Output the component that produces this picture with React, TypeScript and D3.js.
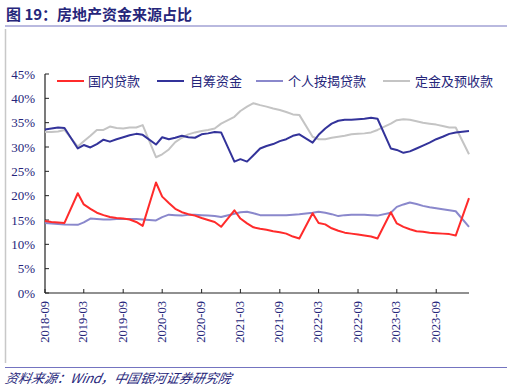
import React from "react";
import * as d3 from "d3";

const months: string[] = [
  "2018-09","2018-10","2018-11","2018-12",
  "2019-02","2019-03","2019-04","2019-05","2019-06","2019-07","2019-08","2019-09","2019-10","2019-11","2019-12",
  "2020-02","2020-03","2020-04","2020-05","2020-06","2020-07","2020-08","2020-09","2020-10","2020-11","2020-12",
  "2021-02","2021-03","2021-04","2021-05","2021-06","2021-07","2021-08","2021-09","2021-10","2021-11","2021-12",
  "2022-02","2022-03","2022-04","2022-05","2022-06","2022-07","2022-08","2022-09","2022-10","2022-11","2022-12",
  "2023-02","2023-03","2023-04","2023-05","2023-06","2023-07","2023-08","2023-09","2023-10","2023-11","2023-12",
  "2024-02",
];

const domesticLoans: number[] = [
  14.8,14.6,14.5,14.4,
  20.5,18.2,17.3,16.5,16.0,15.6,15.4,15.3,15.1,14.6,13.8,
  22.7,19.8,18.5,17.3,16.6,16.2,15.9,15.4,15.0,14.6,13.6,
  17.0,15.3,14.3,13.5,13.2,13.0,12.7,12.5,12.2,11.6,11.2,
  16.4,14.4,14.1,13.3,12.8,12.4,12.2,12.0,11.8,11.6,11.2,
  16.6,14.3,13.6,13.1,12.7,12.6,12.4,12.3,12.2,12.1,11.8,
  19.5,
];

const selfRaised: number[] = [
  33.6,33.8,34.0,33.9,
  29.7,30.4,29.9,30.6,31.5,31.1,31.6,32.0,32.4,32.7,32.5,
  30.5,32.0,31.6,31.9,32.3,32.0,31.9,32.6,32.8,33.1,33.0,
  27.0,27.5,27.0,28.3,29.7,30.2,30.6,31.2,31.6,32.3,32.6,
  30.9,32.5,33.8,34.8,35.4,35.6,35.6,35.7,35.8,36.0,35.8,
  29.7,29.4,28.8,29.1,29.7,30.3,30.9,31.6,32.1,32.7,33.0,
  33.3,
];

const mortgage: number[] = [
  14.4,14.3,14.2,14.1,
  14.0,14.5,15.3,15.2,15.1,15.1,15.2,15.2,15.2,15.2,15.1,
  14.9,15.6,16.1,16.0,15.9,16.1,16.1,16.0,15.9,15.8,15.6,
  16.3,16.6,16.7,16.4,16.0,16.0,16.0,16.0,16.0,16.1,16.2,
  16.5,16.7,16.5,16.2,15.8,16.0,16.1,16.1,16.1,16.0,15.9,
  16.5,17.7,18.2,18.6,18.3,17.9,17.6,17.4,17.2,17.0,16.8,
  13.6,
];

const deposits: number[] = [
  33.1,33.1,33.2,33.5,
  30.1,31.2,32.3,33.5,33.5,34.2,33.9,33.8,34.0,34.0,34.5,
  27.9,28.5,29.5,31.0,31.9,32.6,33.0,33.3,33.5,33.8,34.8,
  36.2,37.4,38.3,39.0,38.6,38.3,37.9,37.6,37.2,36.7,36.6,
  32.1,31.6,31.6,31.9,32.1,32.3,32.6,32.7,32.8,33.0,33.5,
  34.8,35.5,35.7,35.6,35.3,35.0,34.8,34.6,34.3,34.0,34.0,
  28.5,
];

const yTicks: number[] = [0, 5, 10, 15, 20, 25, 30, 35, 40, 45];
const xTickLabels: string[] = [
  "2018-09","2019-03","2019-09","2020-03","2020-09","2021-03",
  "2021-09","2022-03","2022-09","2023-03","2023-09",
];

const seriesNames = ["国内贷款", "自筹资金", "个人按揭贷款", "定金及预收款"];
const seriesColors = ["#ff2b2b", "#33339a", "#8a88cc", "#c4c4c4"];
const seriesData = [domesticLoans, selfRaised, mortgage, deposits];
const drawOrder = [3, 1, 2, 0];

const navy = "#25257a";

const parse = d3.timeParse("%Y-%m");

export default function App() {
  const W = 512, H = 391;
  const left = 45, right = 469, top = 74, bottom = 293;
  const dates = months.map((m) => parse(m) as Date);
  const x = d3.scaleTime().domain([parse("2018-09") as Date, parse("2024-02") as Date]).range([left, right]);
  const y = d3.scaleLinear().domain([0, 45]).range([bottom, top]);
  const line = (vals: number[]) =>
    d3.line<number>().x((_, i) => x(dates[i])).y((v) => y(v))(vals) || "";

  const legendItems = [
    { lx: 57, tx: 88 },
    { lx: 157, tx: 190 },
    { lx: 256, tx: 288 },
    { lx: 383, tx: 415 },
  ];

  return (
    <svg width={W} height={H} style={{ position: "absolute", left: 0, top: 0, background: "#fff" }}>
      <rect x={0} y={0} width={W} height={H} fill="#fff" />
      <text x={6} y={20} fontFamily="'Noto Sans CJK SC', sans-serif" fontWeight="bold" fontSize={15} fill={navy}>
        图 19：房地产资金来源占比
      </text>
      <line x1={5} x2={507} y1={26} y2={26} stroke="#7474c0" strokeWidth={1.2} />
      <line x1={5.5} x2={5.5} y1={29} y2={363} stroke="#c8c8c8" strokeWidth={1.5} />
      <line x1={5} x2={507} y1={367.5} y2={367.5} stroke="#7474c0" strokeWidth={1.2} />
      <text x={7} y={383} fontFamily="'Noto Sans CJK SC', sans-serif" fontStyle="italic" fontSize={13} fill={navy}
        transform="skewX(-12) translate(79,0)">
        资料来源：Wind，中国银河证券研究院
      </text>

      {/* Y axis */}
      <line x1={left} x2={left} y1={top} y2={bottom} stroke="#222" strokeWidth={1.2} />
      {yTicks.map((t) => (
        <g key={t}>
          <line x1={left} x2={left + 4} y1={y(t)} y2={y(t)} stroke="#222" strokeWidth={1} />
          <text x={35} y={y(t)} dy="0.35em" textAnchor="end" fontFamily="'Liberation Serif', serif" fontSize={13} fill={navy}>
            {t}%
          </text>
        </g>
      ))}

      {/* X axis */}
      <line x1={left} x2={right} y1={bottom} y2={bottom} stroke="#222" strokeWidth={1.2} />
      {xTickLabels.map((lab) => {
        const xx = x(parse(lab) as Date);
        return (
          <g key={lab}>
            <line x1={xx} x2={xx} y1={bottom} y2={bottom - 4} stroke="#222" strokeWidth={1} />
            <text
              transform={`translate(${xx + 3.5},${301}) rotate(-90)`}
              textAnchor="end"
              fontFamily="'Liberation Serif', serif"
              fontSize={12.5}
              fill={navy}
            >
              {lab}
            </text>
          </g>
        );
      })}

      {/* Lines */}
      {drawOrder.map((si) => (
        <path key={si} d={line(seriesData[si])} fill="none" stroke={seriesColors[si]} strokeWidth={2} strokeLinejoin="round" />
      ))}

      {/* Legend */}
      {legendItems.map((it, i) => (
        <g key={i}>
          <line x1={it.lx} x2={it.lx + 27} y1={81} y2={81} stroke={seriesColors[i]} strokeWidth={2} />
          <text x={it.tx} y={81} dy="0.36em" fontFamily="'Noto Sans CJK SC', sans-serif" fontSize={13} fill={navy}>
            {seriesNames[i]}
          </text>
        </g>
      ))}
    </svg>
  );
}
